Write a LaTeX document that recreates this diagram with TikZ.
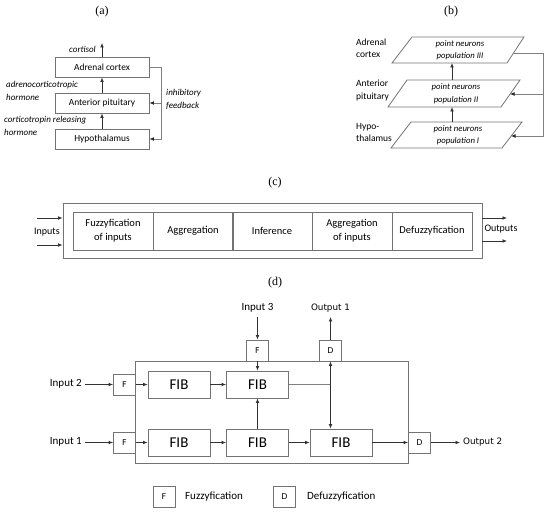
\documentclass[tikz,border=0pt]{standalone}
\usepackage{fontspec}
\setmainfont{Carlito}
\newfontfamily\serf{Liberation Serif}
\newfontfamily\verd{DejaVu Sans}
\usetikzlibrary{arrows.meta,calc}
\tikzset{
  boxline/.style={draw=black!55, line width=0.8pt},
  abox/.style={boxline, minimum width=94pt, minimum height=20pt, inner sep=0pt, font=\fontsize{9.4}{11}\selectfont},
  lbl/.style={inner sep=0pt, font=\fontsize{9}{13}\selectfont\itshape, align=left},
  blbl/.style={inner sep=0pt, font=\fontsize{9.5}{12.5}\selectfont, align=left},
  pn/.style={inner sep=0pt, minimum height=26pt, minimum width=96pt, align=center, font=\fontsize{8.7}{12.5}\selectfont\itshape},
  cell/.style={boxline, minimum width=80pt, minimum height=38pt, inner sep=0pt, align=center, font=\fontsize{10.5}{14}\selectfont},
  fib/.style={boxline, minimum width=62pt, minimum height=27pt, inner sep=0pt, font=\fontsize{15}{16}\selectfont},
  sq/.style={boxline, minimum width=22pt, minimum height=21pt, inner sep=0pt, font=\verd\fontsize{8}{9}\selectfont},
  arr/.style={draw=black!80, line width=0.8pt, -{Latex[length=4.5pt,width=3.8pt]}},
  gline/.style={draw=black!50, line width=0.8pt},
  garr/.style={gline, -{Latex[length=4.5pt,width=3.8pt,color=black!85]}},
  plab/.style={font=\serf\fontsize{12}{14}\selectfont, inner sep=0pt},
  dtxt/.style={inner sep=0pt, font=\fontsize{11}{13}\selectfont},
  otxt/.style={inner sep=0pt, font=\verd\fontsize{8.8}{10}\selectfont},
}
\begin{document}
\begin{tikzpicture}[x=1pt,y=-1pt]
\useasboundingbox (0,0) rectangle (550,513);

% ---------- (a) ----------
\node[plab] (la) at (102,12) {(a)};
\node[abox] (ac) at (102,67) {Adrenal cortex};
\node[abox] (ap) at (102,103) {Anterior pituitary};
\node[abox] (hy) at (102,139) {Hypothalamus};
\coordinate (co) at (102,43);
\draw[arr] (ac.north) -- (co);
\draw[arr] (ap.north) -- (ac.south);
\draw[arr] (hy.north) -- (ap.south);
\coordinate (fbc) at (161,67);
\draw[garr] (ac.east) -- (fbc) |- (hy.east);
\draw[garr] (fbc |- ap.east) -- (ap.east);
\node[lbl, anchor=east] (tco) at (96,49) {cortisol};
\node[lbl, anchor=west] (tac) at (6,90.5) {adrenocorticotropic\\hormone};
\node[lbl, anchor=west] (tcr) at (4,126) {corticotropin releasing\\hormone};
\node[lbl, anchor=west] (tin) at (166,99.5) {inhibitory\\feedback};

% ---------- (b) ----------
\node[plab] (lb) at (451,12) {(b)};
\node[pn] (p3) at (460,50) {point neurons\\population III};
\node[pn] (p2) at (456,93.5) {point neurons\\population II};
\node[pn] (p1) at (458,135) {point neurons\\population I};
\draw[boxline] (392,63) -- (507,63) -- (524,37) -- (412,37) -- cycle;
\draw[boxline] (388,107) -- (501,107) -- (520,80) -- (407,80) -- cycle;
\draw[boxline] (391,148) -- (502,148) -- (522,122) -- (411,122) -- cycle;
\coordinate (b1t) at (452,122);
\coordinate (b2b) at (452,107);
\coordinate (b2t) at (452,80);
\coordinate (b3b) at (452,63);
\draw[arr] (b1t) -- (b2b);
\draw[arr] (b2t) -- (b3b);
\coordinate (p3e) at (513.5,53);
\coordinate (p2e) at (510,94);
\coordinate (p1e) at (511,136);
\coordinate (fbb) at (543,53);
\draw[garr] (p3e) -- (fbb) |- (p1e);
\draw[garr] (fbb |- p2e) -- (p2e);
\node[blbl, anchor=west] (tb3) at (356,48) {Adrenal\\cortex};
\node[blbl, anchor=west] (tb2) at (356,90.5) {Anterior\\pituitary};
\node[blbl, anchor=west] (tb1) at (356,132.5) {Hypo-\\thalamus};

% ---------- (c) ----------
\node[plab] (lc) at (275,183) {(c)};
\node[boxline, minimum width=419pt, minimum height=55pt, inner sep=0pt] (cbox) at (272.5,230.5) {};
\node[cell] (c1) at (113,231) {Fuzzyfication\\of inputs};
\node[cell] (c2) at (193,231) {Aggregation};
\node[cell] (c3) at (272,231) {Inference};
\node[cell] (c4) at (352,231) {Aggregation\\of inputs};
\node[cell] (c5) at (432,231) {Defuzzyfication};
\coordinate (ci1) at (37,218);
\coordinate (ci2) at (37,245);
\draw[arr] (ci1) -- (ci1 -| cbox.west);
\draw[arr] (ci2) -- (ci2 -| cbox.west);
\node[inner sep=0pt, font=\fontsize{10}{12}\selectfont] (tin2) at (47,232) {Inputs};
\coordinate (co1) at (507,218);
\coordinate (co2) at (507,241);
\draw[arr] (co1 -| cbox.east) -- (co1);
\draw[arr] (co2 -| cbox.east) -- (co2);
\node[inner sep=0pt, font=\fontsize{10}{12}\selectfont] (tout) at (501,229) {Outputs};

% ---------- (d) ----------
\node[plab] (ld) at (275,283) {(d)};
\node[boxline, minimum width=273pt, minimum height=102pt, inner sep=0pt] (mb) at (271.5,412) {};
\node[sq] (f2) at (124.5,384.5) {F};
\node[sq] (f1) at (124.5,442.5) {F};
\node[sq] (ft) at (257.5,350.5) {F};
\node[sq] (dt) at (330.5,350.5) {D};
\node[sq] (dr) at (419.5,442.5) {D};
\node[fib] (ba) at (179,384.5) {FIB};
\node[fib] (bb) at (257.5,384.5) {FIB};
\node[fib] (bc) at (179,442.5) {FIB};
\node[fib] (bd) at (257.5,442.5) {FIB};
\node[fib] (be) at (341,442.5) {FIB};
% inputs
\node[dtxt, anchor=east] (i2) at (82,384) {Input 2};
\node[dtxt, anchor=east] (i1) at (82,442) {Input 1};
\node[dtxt] (i3) at (257.5,308) {Input 3};
\coordinate (i2s) at (85,384.5);
\coordinate (i1s) at (85,442.5);
\coordinate (i3s) at (257.5,317);
\draw[arr] (i2s) -- (f2.west);
\draw[arr] (i1s) -- (f1.west);
\draw[arr] (i3s) -- (ft.north);
\draw[arr] (ft.south) -- (bb.north);
\draw[arr] (f2.east) -- (ba.west);
\draw[arr] (ba.east) -- (bb.west);
\draw[arr] (f1.east) -- (bc.west);
\draw[arr] (bc.east) -- (bd.west);
\draw[arr] (bd.east) -- (be.west);
\draw[arr] (be.east) -- (dr.west);
\draw[arr] (bd.north) -- (bb.south);
% outputs
\coordinate (o1e) at (330.5,317);
\draw[arr] (dt.north) -- (o1e);
\node[otxt] (o1) at (330.5,308) {Output 1};
\coordinate (o2e) at (460,442.5);
\draw[arr] (dr.east) -- (o2e);
\node[otxt, anchor=west] (o2) at (463,442.5) {Output 2};
\draw[gline] (bb.east) -- (bb.east -| dt.south);
\draw[arr, {Latex[length=4.5pt,width=3.8pt]}-{Latex[length=4.5pt,width=3.8pt]}] (dt.south) -- (dt.south |- be.north);
% legend
\node[sq] (lf) at (164,496.5) {F};
\node[dtxt, anchor=west] (lft) at (185,497) {Fuzzyfication};
\node[sq] (ldd) at (284.5,496.5) {D};
\node[dtxt, anchor=west] (ldt) at (307,497) {Defuzzyfication};
\end{tikzpicture}
\end{document}
